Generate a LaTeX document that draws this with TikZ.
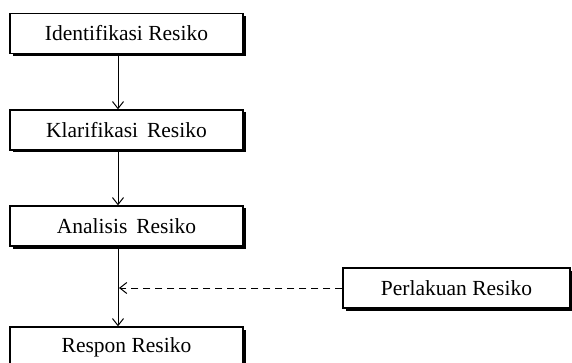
\documentclass[tikz,border=0pt]{standalone}
\usepackage{fontspec}
\setmainfont{Liberation Serif}
\usetikzlibrary{arrows.meta,shadows}

\begin{document}
\begin{tikzpicture}[x=1pt,y=-1pt,
	box/.style={draw,fill=white,line width=1.3pt,minimum height=40,inner sep=0pt,
		drop shadow={opacity=1,fill=black,shadow xshift=2.5pt,shadow yshift=-2.5pt},
		font=\fontsize{21.5}{25}\selectfont},
	arr/.style={-{Straight Barb[length=7pt,width=11pt]},line width=1pt}]
		\clip (0,0) rectangle (572,363);
		\node[box,minimum width=233] (ident) at (126.5,33.5) {Identifikasi Resiko};
		\node[box,minimum width=233] (klar) at (126.5,130) {Klarifikasi\, Resiko};
		\node[box,minimum width=233] (anal) at (126.5,226) {Analisis\, Resiko};
		\node[box,minimum width=233] (resp) at (126.5,347) {Respon Resiko};
		\node[box,minimum width=227] (perl) at (456.5,288) {Perlakuan Resiko};
		\coordinate (join) at (119,288);
		\path ([xshift=-8.5]ident.south) edge[arr] ([xshift=-8.5]klar.north);
		\path ([xshift=-8.5]klar.south) edge[arr] ([xshift=-8.5]anal.north);
		\path ([xshift=-8.5]anal.south) edge[arr] ([xshift=-8.5]resp.north);
		\path (perl.west) edge[arr,dash pattern=on 7pt off 5pt] (join);
\end{tikzpicture}
\end{document}
